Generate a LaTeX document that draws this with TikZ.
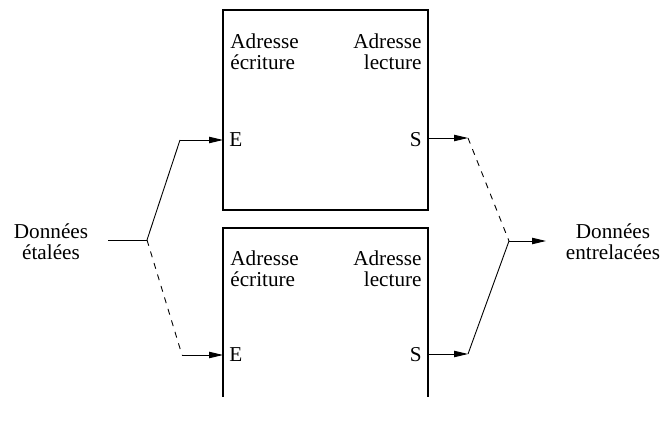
\documentclass[tikz,border=0pt]{standalone}
\usepackage{fontspec}
\newfontfamily\timesfont{Liberation Serif}
\usetikzlibrary{arrows.meta}

\begin{document}
\begin{tikzpicture}[
  x=0.5pt, y=-0.5pt,
  txt/.style={inner sep=0pt, font=\timesfont\fontsize{10.6}{10.5}\selectfont},
  wall/.style={line width=0.55pt},
  wire/.style={line width=0.45pt},
  arrow/.style={wire, -{Triangle[length=7pt,width=3.2pt]}}
]
\useasboundingbox (0,0) rectangle (663,426);

% two memories
\draw[wall] (223,10) rectangle (428,210);
\draw[wall] (223,397) -- (223,228) -- (428,228) -- (428,397);

\node[txt, align=left, anchor=base west] (wr1) at (230,70) {Adresse\\écriture};
\node[txt, align=right, anchor=base east] (rd1) at (422,70) {Adresse\\lecture};
\node[txt, align=left, anchor=base west] (wr2) at (230,287) {Adresse\\écriture};
\node[txt, align=right, anchor=base east] (rd2) at (422,287) {Adresse\\lecture};

\node[txt, anchor=base west] (e1) at (229,147) {E};
\node[txt, anchor=base east] (s1) at (422,147) {S};
\node[txt, anchor=base west] (e2) at (229,362) {E};
\node[txt, anchor=base east] (s2) at (422,362) {S};

\node[txt, align=center, anchor=base] (din) at (51,260) {Données\\étalées};
\node[txt, align=center, anchor=base] (dout) at (613,260) {Données\\entrelacées};

% ports and bends
\coordinate (in1) at (223,140);
\coordinate (in2) at (223,355);
\coordinate (out1) at (428,138);
\coordinate (out2) at (428,354);
\coordinate (src) at (108,240);
\coordinate (split) at (147,240);
\coordinate (b1) at (180,140);
\coordinate (b2) at (182,355);
\coordinate (c1) at (468,138);
\coordinate (c2) at (468,354);
\coordinate (merge) at (509,241);
\coordinate (dst) at (546,241);

\draw[wire] (src) -- (split);
\draw[wire] (split) -- (b1);
\draw[wire, dashed] (split) -- (b2);
\draw[arrow] (b1) -- (in1);
\draw[arrow] (b2) -- (in2);
\draw[arrow] (out1) -- (c1);
\draw[arrow] (out2) -- (c2);
\draw[wire, dashed] (c1) -- (merge);
\draw[wire] (c2) -- (merge);
\draw[arrow] (merge) -- (dst);
\end{tikzpicture}
\end{document}
